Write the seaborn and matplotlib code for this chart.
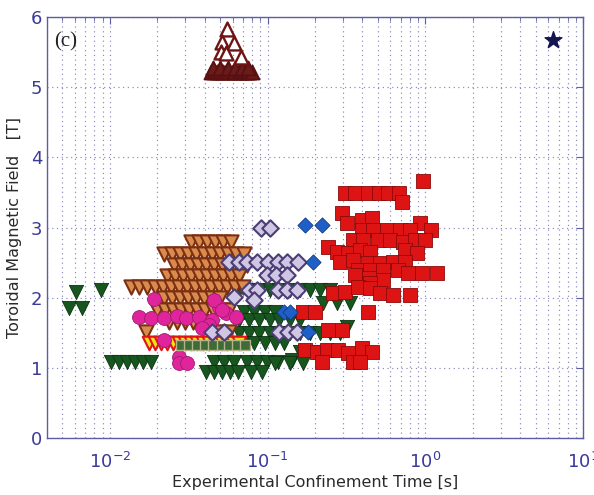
import numpy as np
import pandas as pd
import matplotlib
matplotlib.use("Agg")
import matplotlib.pyplot as plt
import seaborn as sns
from matplotlib.ticker import LogLocator, NullFormatter, FixedLocator

# ---------------- data ----------------
# Red filled squares
tau_sq = [0.967, 0.309, 0.358, 0.433, 0.509, 0.582, 0.684, 0.715,
          0.296, 0.318, 0.397, 0.462, 0.929,
          0.397, 0.468, 0.574, 0.693, 0.802, 1.08,
          0.346, 0.403, 0.502, 0.598, 0.724, 0.863, 1.0,
          0.241, 0.276, 0.322, 0.385, 0.447, 0.745, 0.886,
          0.288, 0.346, 0.433, 0.516, 0.627, 0.745,
          0.372, 0.447, 0.540, 0.674, 0.781, 0.955, 1.19,
          0.358, 0.440, 0.540, 0.447,
          0.259, 0.309, 0.374, 0.447, 0.516, 0.627, 0.802,
          0.433, 0.168, 0.199, 0.241, 0.296,
          0.172, 0.205, 0.238, 0.279, 0.322, 0.397, 0.462,
          0.221, 0.346, 0.385]
B_sq = [3.66, 3.49, 3.49, 3.49, 3.49, 3.49, 3.49, 3.36,
        3.21, 3.06, 3.11, 3.14, 3.06,
        2.96, 2.96, 2.96, 2.96, 2.96, 2.96,
        2.82, 2.82, 2.82, 2.82, 2.79, 2.82, 2.82,
        2.72, 2.65, 2.64, 2.68, 2.65, 2.68, 2.64,
        2.51, 2.54, 2.49, 2.49, 2.51, 2.51,
        2.39, 2.39, 2.39, 2.39, 2.35, 2.35, 2.35,
        2.32, 2.28, 2.25, 2.21,
        2.07, 2.08, 2.15, 2.14, 2.07, 2.04, 2.04,
        1.80, 1.80, 1.80, 1.54, 1.54,
        1.25, 1.23, 1.25, 1.25, 1.21, 1.28, 1.23,
        1.08, 1.08, 1.08]

# Blue filled diamonds
tau_bd = [0.172, 0.221, 0.194, 0.128, 0.138, 0.180]
B_bd = [3.04, 3.04, 2.51, 1.80, 1.80, 1.51]

# Star
tau_star = [6.5]
B_star = [5.67]

# Dark red open up-triangles (high field): upper scattered ones
tau_ut_top = [0.0556, 0.0516, 0.0617, 0.0508, 0.0548, 0.0683]
B_ut_top = [5.83, 5.64, 5.63, 5.50, 5.49, 5.43]
# dense base row of the same group
tau_ut_base = [0.0441, 0.0460, 0.0480, 0.0500, 0.0524, 0.0548, 0.0573, 0.0600,
               0.0626, 0.0655, 0.0683, 0.0710, 0.0737, 0.0765, 0.0794,
               0.0450, 0.0500, 0.0560, 0.0620, 0.0690, 0.0750]
B_ut_base = [5.22] * 15 + [5.27] * 6

# Orange-brown open down-triangles
tau_ot = [0.0329, 0.0369, 0.0415, 0.0467, 0.0524, 0.0589,
          0.0221, 0.0248, 0.0279, 0.0313, 0.0352, 0.0397, 0.0446, 0.0501, 0.0564, 0.0634, 0.0714,
          0.0256, 0.0288, 0.0324, 0.0364, 0.0408, 0.0460, 0.0518, 0.0582, 0.0654, 0.0736,
          0.0229, 0.0258, 0.0290, 0.0327, 0.0369, 0.0415, 0.0467, 0.0524, 0.0589, 0.0664,
          0.0136, 0.0153, 0.0172, 0.0194, 0.0218, 0.0245, 0.0275, 0.0309, 0.0348, 0.0391,
          0.0441, 0.0494, 0.0556, 0.0626, 0.0704,
          0.0221, 0.0248, 0.0279, 0.0313, 0.0352, 0.0397, 0.0446, 0.0501,
          0.0199, 0.0224, 0.0252, 0.0283, 0.0318, 0.0358, 0.0403, 0.0454, 0.0511, 0.0573,
          0.0238, 0.0268, 0.0300, 0.0336, 0.0378, 0.0428,
          0.0170, 0.0494, 0.0573]
B_ot = [2.79] * 6 + [2.62] * 11 + [2.47] * 10 + [2.31] * 10 + [2.15] * 15 + \
       [2.00] * 8 + [1.82] * 10 + [1.65] * 6 + [1.51] * 3

# Lavender open diamonds
tau_ld = [0.0915, 0.103, 0.0573, 0.0664, 0.0746, 0.0862, 0.100, 0.116, 0.132, 0.155,
          0.0986, 0.114, 0.132,
          0.0767, 0.0862, 0.116, 0.132, 0.153,
          0.0617, 0.0826,
          0.0446, 0.0532, 0.119, 0.134, 0.153]
B_ld = [2.99, 2.99, 2.51, 2.51, 2.51, 2.51, 2.51, 2.51, 2.51, 2.51,
        2.32, 2.32, 2.32,
        2.11, 2.11, 2.11, 2.11, 2.11,
        2.01, 1.97,
        1.51, 1.51, 1.51, 1.51, 1.51]

# Magenta filled circles
tau_mc = [0.0191, 0.0153, 0.0182, 0.0221, 0.0268, 0.0305, 0.0369, 0.0446, 0.0548,
          0.0634, 0.0428, 0.0386, 0.0221, 0.0275, 0.0275, 0.0309, 0.0494, 0.0460, 0.0518]
B_mc = [1.98, 1.72, 1.71, 1.71, 1.74, 1.71, 1.72, 1.68, 1.78,
        1.72, 1.61, 1.57, 1.40, 1.15, 1.07, 1.07, 1.87, 1.97, 1.82]

# Yellow down-triangles (red edges)
tau_yt = [0.0177, 0.0194, 0.0211, 0.0229, 0.0252, 0.0275, 0.0300, 0.0327,
          0.0358, 0.0390, 0.0428, 0.0467, 0.0511, 0.0556, 0.0607, 0.0664]
B_yt = [1.36] * 16

# Olive squares
tau_os = [0.0281, 0.0318, 0.0358, 0.0403, 0.0454, 0.0511, 0.0573, 0.0645, 0.0725]
B_os = [1.32] * 9

# Dark green filled down-triangles
tau_gt = [0.00607, 0.00876, 0.00548, 0.00663,
          0.0102, 0.0114, 0.0128, 0.0144, 0.0162, 0.0182,
          0.0460, 0.0532, 0.0617, 0.0746, 0.0862, 0.0998, 0.116,
          0.0408, 0.0460, 0.0518, 0.0582, 0.0654, 0.0791, 0.0917,
          0.0664, 0.0767, 0.0889, 0.103, 0.119, 0.138, 0.160, 0.185, 0.214, 0.248,
          0.226, 0.276, 0.333,
          0.0714, 0.0826, 0.0957, 0.111,
          0.0664, 0.0767, 0.0889, 0.103, 0.119, 0.138, 0.160,
          0.0664, 0.0767, 0.0889, 0.103, 0.119, 0.138, 0.160, 0.185, 0.214, 0.248, 0.288,
          0.0617, 0.0714, 0.0826, 0.0957, 0.111, 0.128,
          0.318, 0.160, 0.193, 0.142, 0.111, 0.138, 0.168]
B_gt = [2.08, 2.11, 1.85, 1.85,
        1.08, 1.08, 1.08, 1.08, 1.08, 1.08,
        1.08, 1.08, 1.08, 1.08, 1.08, 1.08, 1.08,
        0.94, 0.94, 0.94, 0.94, 0.94, 0.94, 0.94,
        2.11, 2.11, 2.11, 2.11, 2.11, 2.11, 2.11, 2.11, 2.11, 2.11,
        1.92, 1.92, 1.92,
        1.80, 1.80, 1.80, 1.80,
        1.68, 1.68, 1.68, 1.68, 1.68, 1.68, 1.68,
        1.50, 1.50, 1.50, 1.50, 1.50, 1.50, 1.50, 1.50, 1.50, 1.50, 1.50,
        1.35, 1.35, 1.35, 1.35, 1.35, 1.35,
        1.58, 1.23, 1.23, 1.11, 1.07, 1.07, 1.07]

x_ticks = [0.01, 0.1, 1, 10]
x_ticklabels = [r"$10^{-2}$", r"$10^{-1}$", r"$10^{0}$", r"$10^{1}$"]
y_ticks = [0, 1, 2, 3, 4, 5, 6]

# ---------------- plot ----------------
sns.set_style("white")
plt.rcParams["font.family"] = ["DejaVu Sans"]

fig = plt.figure(figsize=(5.94, 4.95), dpi=100)
ax = fig.add_axes([47 / 594, 1 - 438 / 495, 536 / 594, 421 / 495])
ax.set_xscale("log")

def sc(x, y, **kw):
    sns.scatterplot(x=x, y=y, ax=ax, legend=False, **kw)

sc(tau_gt, B_gt, marker="v", s=105, color="#17561f", edgecolor="#0c3312", linewidth=0.6, zorder=3)
sc(tau_ot, B_ot, marker="v", s=105, facecolor="#d98a4c", edgecolor="#7c3012", linewidth=1.5, zorder=4)
sc(tau_mc, B_mc, marker="o", s=100, color="#e0259c", edgecolor="#a01a70", linewidth=0.6, zorder=5)
sc(tau_yt, B_yt, marker="v", s=95, color="#f2e21a", edgecolor="#e01414", linewidth=1.5, zorder=4)
sc(tau_os, B_os, marker="s", s=60, color="#3f6b36", edgecolor="#b4b48c", linewidth=1.0, zorder=5)
sc(tau_ld, B_ld, marker="D", s=70, facecolor="#cfc6e4", edgecolor="#4c3e74", linewidth=1.5, zorder=6)
sc(tau_bd, B_bd, marker="D", s=60, color="#1f5fc8", edgecolor="#123a80", linewidth=0.6, zorder=7)
sc(tau_sq, B_sq, marker="s", s=95, color="#de1414", edgecolor="#8a0a0a", linewidth=0.6, zorder=6)
sc(tau_ut_base, B_ut_base, marker="^", s=100, facecolor="#6a1c1c", edgecolor="#5a1010", linewidth=1.4, zorder=4)
sc(tau_ut_top, B_ut_top, marker="^", s=100, facecolor="white", edgecolor="#6e1414", linewidth=1.7, zorder=4)
sc(tau_star, B_star, marker="*", s=160, color="#141450", edgecolor="#141450", zorder=8)

ax.set_xlim(0.004, 10)
ax.set_ylim(0, 6)
ax.xaxis.set_major_locator(FixedLocator(x_ticks))
ax.set_xticklabels(x_ticklabels)
ax.xaxis.set_minor_locator(LogLocator(base=10, subs=np.arange(2, 10), numticks=20))
ax.xaxis.set_minor_formatter(NullFormatter())
ax.set_yticks(y_ticks)

tick_col = "#3a3a9a"
spine_col = "#5c5ca8"
for sp in ax.spines.values():
    sp.set_color(spine_col)
    sp.set_linewidth(1.0)
ax.tick_params(axis="both", which="both", direction="in", colors=spine_col,
               labelcolor=tick_col, top=True, right=True)
ax.tick_params(axis="both", which="major", length=5, labelsize=13)
ax.tick_params(axis="x", which="major", pad=10)
ax.tick_params(axis="x", which="minor", length=3)

grid_ls = (0, (1, 3))
ax.grid(True, which="major", axis="both", linestyle=grid_ls, color="#8888bc", linewidth=0.85)
ax.grid(True, which="minor", axis="x", linestyle=grid_ls, color="#8888bc", linewidth=0.85)
ax.set_axisbelow(True)

ax.set_xlabel("Experimental Confinement Time [s]", fontsize=11.5, color="#2a2a2a", labelpad=2)
ax.set_ylabel("Toroidal Magnetic Field   [T]", fontsize=11.5, color="#2a2a2a", labelpad=6)

ax.text(0.013, 0.94, "(c)", transform=ax.transAxes, fontsize=15,
        family=["Liberation Serif", "DejaVu Serif"], color="#202020", va="center", ha="left")

fig.savefig("out.png", dpi=100)
